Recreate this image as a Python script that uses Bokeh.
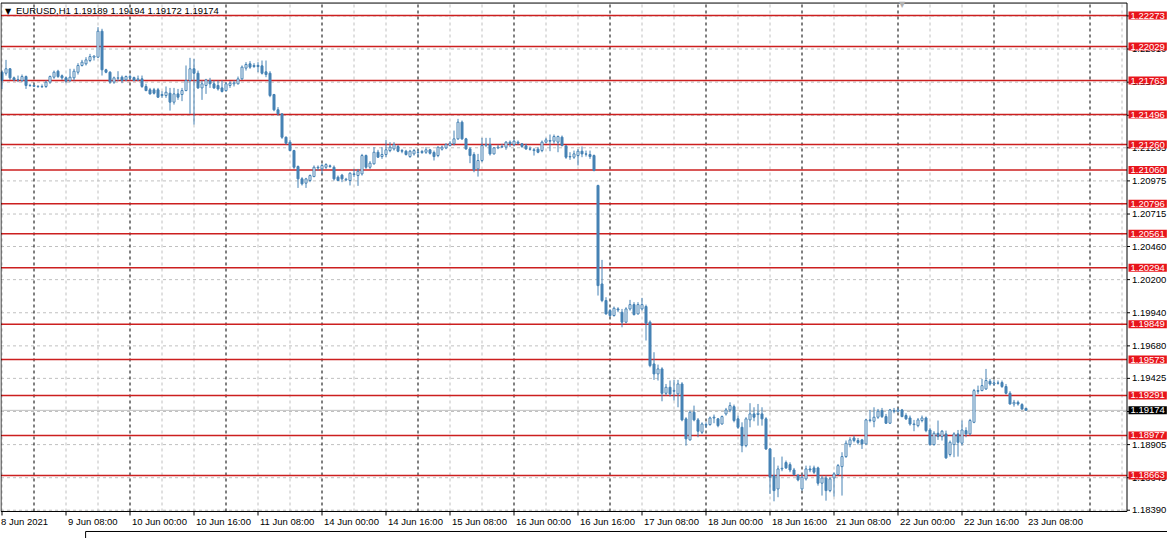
from math import pi
from bokeh.plotting import figure
from bokeh.models import ColumnDataSource, Range1d, Label
from bokeh.core.properties import value
from bokeh.embed import file_html
from bokeh.resources import INLINE

# ---------------- data (EURUSD H1, bar 0 = 8 Jun 2021 16:00) ----------------
open_ = [
    1.21828, 1.21820, 1.21855, 1.21784, 1.21768, 1.21763, 1.21794, 1.21724, 1.21724, 1.21718,
    1.21716, 1.21716, 1.21750, 1.21789, 1.21836, 1.21800, 1.21784, 1.21763, 1.21784, 1.21828,
    1.21881, 1.21894, 1.21920, 1.21946, 1.21946, 1.22150, 1.21847, 1.21828, 1.21750, 1.21781,
    1.21789, 1.21768, 1.21794, 1.21786, 1.21768, 1.21776, 1.21716, 1.21690, 1.21690, 1.21690,
    1.21645, 1.21645, 1.21663, 1.21593, 1.21658, 1.21653, 1.21684, 1.21763, 1.21855, 1.21820,
    1.21705, 1.21724, 1.21763, 1.21737, 1.21724, 1.21705, 1.21684, 1.21724, 1.21737, 1.21737,
    1.21776, 1.21860, 1.21894, 1.21873, 1.21881, 1.21878, 1.21831, 1.21820, 1.21653, 1.21533,
    1.21501, 1.21318, 1.21279, 1.21213, 1.21088, 1.20991, 1.20957, 1.20978, 1.21009, 1.21082,
    1.21069, 1.21082, 1.21093, 1.21082, 1.21004, 1.21020, 1.20983, 1.20978, 1.21030, 1.21017,
    1.21030, 1.21174, 1.21082, 1.21109, 1.21200, 1.21166, 1.21182, 1.21213, 1.21226, 1.21245,
    1.21213, 1.21208, 1.21166, 1.21187, 1.21200, 1.21198, 1.21200, 1.21219, 1.21198, 1.21174,
    1.21224, 1.21234, 1.21253, 1.21266, 1.21305, 1.21436, 1.21305, 1.21226, 1.21182, 1.21069,
    1.21135, 1.21255, 1.21260, 1.21187, 1.21234, 1.21240, 1.21240, 1.21279, 1.21260, 1.21279,
    1.21266, 1.21250, 1.21226, 1.21219, 1.21224, 1.21213, 1.21279, 1.21292, 1.21287, 1.21279,
    1.21318, 1.21250, 1.21166, 1.21161, 1.21174, 1.21208, 1.21187, 1.21182, 1.21174, 1.20939,
    1.20166, 1.20036, 1.19957, 1.19918, 1.19970, 1.19944, 1.19866, 1.19970, 1.20004, 1.19931,
    1.19970, 1.19989, 1.19866, 1.19538, 1.19460, 1.19499, 1.19308, 1.19355, 1.19329, 1.19303,
    1.19381, 1.19107, 1.18942, 1.19159, 1.19099, 1.19002, 1.19062, 1.19062, 1.19114, 1.19107,
    1.19067, 1.19146, 1.19177, 1.19203, 1.19107, 1.19041, 1.18897, 1.19099, 1.19146, 1.19141,
    1.19146, 1.19107, 1.18871, 1.18662, 1.18557, 1.18714, 1.18764, 1.18748, 1.18706, 1.18662,
    1.18557, 1.18636, 1.18714, 1.18722, 1.18722, 1.18602, 1.18643, 1.18544, 1.18643, 1.18670,
    1.18732, 1.18811, 1.18905, 1.18957, 1.18937, 1.18942, 1.18910, 1.19099, 1.19088, 1.19120,
    1.19172, 1.19125, 1.19073, 1.19172, 1.19167, 1.19177, 1.19133, 1.19114, 1.19067, 1.19054,
    1.19094, 1.19114, 1.19020, 1.18905, 1.18994, 1.18968, 1.18989, 1.18827, 1.18905, 1.18989,
    1.18916, 1.19015, 1.18989, 1.19080, 1.19329, 1.19329, 1.19342, 1.19402, 1.19381, 1.19389,
    1.19392, 1.19361, 1.19308, 1.19224, 1.19237, 1.19219, 1.19189,
]
high_ = [
    1.21841, 1.21925, 1.21860, 1.21794, 1.21802, 1.21810, 1.21802, 1.21737, 1.21729, 1.21724,
    1.21732, 1.21763, 1.21802, 1.21841, 1.21847, 1.21810, 1.21794, 1.21855, 1.21855, 1.21899,
    1.21925, 1.21946, 1.21972, 1.21959, 1.22182, 1.22169, 1.21855, 1.21836, 1.21794, 1.21836,
    1.21802, 1.21802, 1.21810, 1.21794, 1.21802, 1.21802, 1.21737, 1.21705, 1.21705, 1.21705,
    1.21679, 1.21716, 1.21705, 1.21705, 1.21697, 1.21705, 1.21881, 1.21941, 1.21933, 1.21841,
    1.21763, 1.21776, 1.21784, 1.21763, 1.21763, 1.21763, 1.21750, 1.21758, 1.21763, 1.21794,
    1.21881, 1.21907, 1.21915, 1.21899, 1.21907, 1.21920, 1.21920, 1.21836, 1.21658, 1.21554,
    1.21506, 1.21323, 1.21297, 1.21219, 1.21096, 1.21004, 1.20999, 1.21025, 1.21096, 1.21096,
    1.21109, 1.21114, 1.21103, 1.21096, 1.21017, 1.21030, 1.20999, 1.21043, 1.21069, 1.21069,
    1.21187, 1.21182, 1.21130, 1.21240, 1.21219, 1.21240, 1.21297, 1.21279, 1.21279, 1.21260,
    1.21226, 1.21219, 1.21219, 1.21226, 1.21219, 1.21219, 1.21240, 1.21226, 1.21213, 1.21245,
    1.21253, 1.21271, 1.21287, 1.21370, 1.21462, 1.21449, 1.21313, 1.21240, 1.21200, 1.21187,
    1.21313, 1.21313, 1.21313, 1.21240, 1.21260, 1.21266, 1.21287, 1.21292, 1.21297, 1.21292,
    1.21271, 1.21266, 1.21245, 1.21234, 1.21240, 1.21292, 1.21313, 1.21339, 1.21339, 1.21331,
    1.21331, 1.21253, 1.21200, 1.21213, 1.21226, 1.21245, 1.21213, 1.21213, 1.21182, 1.20945,
    1.20355, 1.20062, 1.19970, 1.19989, 1.19983, 1.19970, 1.19983, 1.20041, 1.20023, 1.20023,
    1.20057, 1.20004, 1.19879, 1.19630, 1.19533, 1.19512, 1.19381, 1.19408, 1.19413, 1.19413,
    1.19395, 1.19120, 1.19172, 1.19211, 1.19114, 1.19080, 1.19080, 1.19125, 1.19141, 1.19114,
    1.19133, 1.19193, 1.19237, 1.19219, 1.19133, 1.19080, 1.19120, 1.19230, 1.19198, 1.19224,
    1.19198, 1.19120, 1.18879, 1.18806, 1.18740, 1.18811, 1.18780, 1.18766, 1.18722, 1.18675,
    1.18675, 1.18740, 1.18740, 1.18740, 1.18732, 1.18662, 1.18662, 1.18649, 1.18688, 1.18753,
    1.18845, 1.18937, 1.18963, 1.18976, 1.18957, 1.18950, 1.19107, 1.19177, 1.19198, 1.19185,
    1.19193, 1.19146, 1.19185, 1.19193, 1.19193, 1.19185, 1.19151, 1.19133, 1.19099, 1.19114,
    1.19133, 1.19125, 1.19036, 1.19010, 1.19094, 1.19020, 1.19015, 1.18937, 1.19002, 1.19020,
    1.19094, 1.19041, 1.19107, 1.19342, 1.19368, 1.19421, 1.19499, 1.19421, 1.19413, 1.19408,
    1.19408, 1.19381, 1.19324, 1.19256, 1.19251, 1.19230, 1.19194,
]
low_ = [
    1.21697, 1.21802, 1.21768, 1.21758, 1.21750, 1.21750, 1.21697, 1.21716, 1.21711, 1.21705,
    1.21705, 1.21705, 1.21737, 1.21776, 1.21784, 1.21768, 1.21742, 1.21750, 1.21763, 1.21810,
    1.21873, 1.21881, 1.21907, 1.21920, 1.21941, 1.21802, 1.21820, 1.21737, 1.21737, 1.21758,
    1.21742, 1.21758, 1.21763, 1.21758, 1.21758, 1.21705, 1.21679, 1.21653, 1.21653, 1.21627,
    1.21627, 1.21627, 1.21527, 1.21574, 1.21611, 1.21601, 1.21679, 1.21501, 1.21417, 1.21697,
    1.21611, 1.21658, 1.21705, 1.21697, 1.21684, 1.21669, 1.21679, 1.21705, 1.21716, 1.21732,
    1.21768, 1.21841, 1.21855, 1.21862, 1.21828, 1.21810, 1.21789, 1.21632, 1.21522, 1.21488,
    1.21305, 1.21260, 1.21208, 1.21069, 1.20920, 1.20939, 1.20920, 1.20965, 1.21004, 1.21056,
    1.21030, 1.21069, 1.21077, 1.20978, 1.20973, 1.20965, 1.20973, 1.20939, 1.21004, 1.20936,
    1.21017, 1.21069, 1.21069, 1.21103, 1.21156, 1.21148, 1.21161, 1.21200, 1.21213, 1.21200,
    1.21192, 1.21174, 1.21156, 1.21174, 1.21161, 1.21187, 1.21187, 1.21182, 1.21135, 1.21161,
    1.21213, 1.21224, 1.21245, 1.21253, 1.21297, 1.21297, 1.21219, 1.21114, 1.21043, 1.21009,
    1.21122, 1.21240, 1.21174, 1.21182, 1.21224, 1.21234, 1.21219, 1.21240, 1.21245, 1.21260,
    1.21234, 1.21219, 1.21213, 1.21174, 1.21192, 1.21200, 1.21271, 1.21208, 1.21266, 1.21200,
    1.21245, 1.21148, 1.21140, 1.21148, 1.21096, 1.21161, 1.21166, 1.21148, 1.21051, 1.20075,
    1.20023, 1.19926, 1.19905, 1.19910, 1.19944, 1.19826, 1.19858, 1.19957, 1.19918, 1.19926,
    1.19957, 1.19722, 1.19512, 1.19413, 1.19408, 1.19245, 1.19290, 1.19282, 1.19251, 1.19198,
    1.19088, 1.18897, 1.18937, 1.19088, 1.18963, 1.18989, 1.19036, 1.19054, 1.19073, 1.19041,
    1.19062, 1.19133, 1.19159, 1.19080, 1.19028, 1.18845, 1.18884, 1.19041, 1.19088, 1.19054,
    1.19054, 1.18863, 1.18518, 1.18460, 1.18492, 1.18696, 1.18714, 1.18688, 1.18662, 1.18617,
    1.18544, 1.18623, 1.18688, 1.18675, 1.18583, 1.18505, 1.18465, 1.18531, 1.18497, 1.18662,
    1.18505, 1.18801, 1.18884, 1.18923, 1.18905, 1.18871, 1.18905, 1.19080, 1.19041, 1.19107,
    1.19114, 1.19067, 1.19067, 1.19151, 1.19159, 1.19120, 1.19099, 1.19054, 1.19010, 1.19041,
    1.19080, 1.19002, 1.18897, 1.18897, 1.18942, 1.18937, 1.18793, 1.18811, 1.18806, 1.18811,
    1.18897, 1.18963, 1.18976, 1.19073, 1.19303, 1.19324, 1.19334, 1.19368, 1.19368, 1.19376,
    1.19350, 1.19298, 1.19219, 1.19203, 1.19211, 1.19177, 1.19172,
]
close_ = [
    1.21763, 1.21855, 1.21784, 1.21768, 1.21768, 1.21794, 1.21724, 1.21722, 1.21718, 1.21716,
    1.21714, 1.21750, 1.21794, 1.21828, 1.21794, 1.21784, 1.21758, 1.21789, 1.21836, 1.21881,
    1.21907, 1.21925, 1.21951, 1.21955, 1.22150, 1.21847, 1.21828, 1.21750, 1.21784, 1.21784,
    1.21763, 1.21794, 1.21786, 1.21763, 1.21776, 1.21716, 1.21684, 1.21658, 1.21663, 1.21632,
    1.21653, 1.21671, 1.21593, 1.21658, 1.21632, 1.21684, 1.21763, 1.21855, 1.21820, 1.21705,
    1.21737, 1.21768, 1.21737, 1.21705, 1.21697, 1.21677, 1.21737, 1.21742, 1.21745, 1.21776,
    1.21868, 1.21889, 1.21868, 1.21881, 1.21873, 1.21820, 1.21810, 1.21645, 1.21533, 1.21501,
    1.21318, 1.21271, 1.21213, 1.21082, 1.20991, 1.20952, 1.20991, 1.21017, 1.21082, 1.21077,
    1.21096, 1.21103, 1.21088, 1.20991, 1.20978, 1.20991, 1.20988, 1.21035, 1.21025, 1.21051,
    1.21174, 1.21082, 1.21114, 1.21200, 1.21161, 1.21182, 1.21219, 1.21240, 1.21260, 1.21208,
    1.21208, 1.21182, 1.21208, 1.21213, 1.21198, 1.21206, 1.21219, 1.21192, 1.21166, 1.21240,
    1.21240, 1.21260, 1.21271, 1.21305, 1.21436, 1.21305, 1.21226, 1.21174, 1.21062, 1.21135,
    1.21253, 1.21260, 1.21187, 1.21234, 1.21240, 1.21245, 1.21279, 1.21266, 1.21287, 1.21271,
    1.21245, 1.21226, 1.21224, 1.21213, 1.21200, 1.21279, 1.21297, 1.21287, 1.21323, 1.21323,
    1.21253, 1.21161, 1.21163, 1.21187, 1.21208, 1.21187, 1.21185, 1.21166, 1.21056, 1.20153,
    1.20036, 1.19931, 1.19918, 1.19975, 1.19962, 1.19866, 1.19970, 1.20004, 1.19926, 1.20004,
    1.20004, 1.19858, 1.19525, 1.19460, 1.19499, 1.19308, 1.19355, 1.19303, 1.19324, 1.19381,
    1.19099, 1.18950, 1.19159, 1.19099, 1.19010, 1.19067, 1.19057, 1.19114, 1.19120, 1.19054,
    1.19125, 1.19177, 1.19211, 1.19094, 1.19041, 1.18897, 1.19107, 1.19146, 1.19120, 1.19151,
    1.19107, 1.18871, 1.18649, 1.18544, 1.18714, 1.18719, 1.18722, 1.18706, 1.18670, 1.18628,
    1.18649, 1.18714, 1.18706, 1.18688, 1.18602, 1.18643, 1.18544, 1.18636, 1.18675, 1.18740,
    1.18811, 1.18916, 1.18942, 1.18937, 1.18921, 1.18910, 1.19099, 1.19094, 1.19120, 1.19167,
    1.19125, 1.19073, 1.19177, 1.19167, 1.19177, 1.19125, 1.19107, 1.19067, 1.19062, 1.19099,
    1.19114, 1.19015, 1.18905, 1.18994, 1.18968, 1.19010, 1.18801, 1.18923, 1.18989, 1.18923,
    1.19020, 1.18989, 1.19094, 1.19329, 1.19324, 1.19368, 1.19408, 1.19381, 1.19389, 1.19387,
    1.19361, 1.19308, 1.19224, 1.19237, 1.19224, 1.19185, 1.19174,
]

# horizontal levels drawn on the chart
red_levels = [1.22273, 1.22029, 1.21763, 1.21496, 1.21260, 1.21060, 1.20796,
              1.20561, 1.20294, 1.19849, 1.19573, 1.19291, 1.18977, 1.18663]

# price scale ticks
y_ticks = [1.18390, 1.18645, 1.18905, 1.19165, 1.19425, 1.19680, 1.19940, 1.20200,
           1.20460, 1.20715, 1.20975, 1.21235, 1.21490, 1.21750, 1.22010, 1.22270]

# time scale (bar index -> label)
x_tick_bars = [0, 16, 32, 48, 64, 80, 96, 112, 128, 144, 160, 176, 192, 208, 224, 240, 256]
x_tick_labels = ["8 Jun 2021", "9 Jun 08:00", "10 Jun 00:00", "10 Jun 16:00", "11 Jun 08:00",
                 "14 Jun 00:00", "14 Jun 16:00", "15 Jun 08:00", "16 Jun 00:00", "16 Jun 16:00",
                 "17 Jun 08:00", "18 Jun 00:00", "18 Jun 16:00", "21 Jun 08:00", "22 Jun 00:00",
                 "22 Jun 16:00", "23 Jun 08:00"]
day_bars = [8, 32, 56, 80, 104, 128, 152, 176, 200, 224, 248, 272]

symbol = "EURUSD,H1"

# ---------------- styling / layout ----------------
BLUE = "#4682B4"
RED_LINE = "#CC1F1F"
RED_BOX = "#E8141B"
GRID = "#C0C0C0"
FONT = "Liberation Sans"
FS = "9.5px"
W, H = 1167, 538

# whole canvas in data units (4 px per bar), chart window inside it
CX0, CX1 = -0.375, 291.375
CY0, CY1 = 1.18168, 1.22391
X0, X1 = -0.25, 281.25          # chart window left / right
YB, YT = 1.18380, 1.22371       # chart window bottom / top
TAB_X = 20.9                     # left end of the terminal's bottom tab line
TAB_Y = 1.18223

n = len(close_)
xs = list(range(n))
top = [max(o, c) for o, c in zip(open_, close_)]
bot = [min(o, c) for o, c in zip(open_, close_)]
fill = ["white" if c >= o else BLUE for o, c in zip(open_, close_)]
src = ColumnDataSource(dict(x=xs, o=open_, h=high_, l=low_, c=close_, top=top, bot=bot, fill=fill))

p = figure(width=W, height=H, output_backend="svg", toolbar_location=None,
           x_range=Range1d(CX0, CX1), y_range=Range1d(CY0, CY1),
           x_axis_location=None, y_axis_location=None,
           min_border=0, min_border_left=0, min_border_right=0, min_border_top=0,
           min_border_bottom=0, background_fill_color="white", border_fill_color="white",
           outline_line_color=None)
p.grid.visible = False

# grid (dashed) inside the chart window
grey_x = [b for b in range(0, 288, 8) if b not in day_bars]
p.segment(x0=grey_x, y0=YB, x1=grey_x, y1=YT, line_color=GRID, line_dash="3 3", line_width=1)
p.segment(x0=X0, y0=y_ticks, x1=X1, y1=y_ticks, line_color=GRID, line_dash="3 3", line_width=1)
p.segment(x0=day_bars, y0=YB, x1=day_bars, y1=YT, line_color="black", line_dash="3 3",
          line_width=1)

# current bid line and horizontal levels
p.segment(x0=X0, y0=[close_[-1]], x1=X1, y1=[close_[-1]], line_color=GRID, line_width=1)
p.segment(x0=X0, y0=red_levels, x1=X1, y1=red_levels, line_color=RED_LINE, line_width=1.5)

# candles
p.segment(x0="x", y0="h", x1="x", y1="l", source=src, line_color=BLUE, line_width=1)
p.vbar(x="x", width=0.5, top="top", bottom="bot", source=src, fill_color="fill",
       line_color=BLUE, line_width=1)

# chart window frame
p.quad(left=[X0], right=[X1], bottom=[YB], top=[YT], fill_color=None, line_color="black",
       line_width=1)

# price scale: ticks + labels
p.ray(x=X1, y=y_ticks, length=3, length_units="screen", angle=0, line_color="black",
      line_width=1)
p.text(x=X1, y=y_ticks, text=[f"{t:.5f}" for t in y_ticks], x_offset=5,
       text_align="left", text_baseline="middle", text_font=value(FONT),
       text_font_size=FS, text_color="black")

# time scale: ticks + left-aligned labels
p.ray(x=x_tick_bars, y=YB, length=4, length_units="screen", angle=-pi / 2,
      line_color="black", line_width=1)
for b, t in zip(x_tick_bars, x_tick_labels):
    xo = -1 if b == x_tick_bars[0] else 2
    p.add_layout(Label(x=b, y=YB, x_offset=xo, y_offset=-5, text=t, text_align="left",
                       text_baseline="top", text_font=FONT, text_font_size=FS,
                       text_color="black"))

# price boxes for levels and current bid
for lv in red_levels:
    p.add_layout(Label(x=X1, y=lv, x_offset=1.5, text=f"{lv:.5f}", text_align="left",
                       text_baseline="middle", text_font=FONT, text_font_size=FS,
                       text_color="white", background_fill_color=RED_BOX, padding=(2, 1),
                       level="overlay"))
p.add_layout(Label(x=X1, y=close_[-1], x_offset=1.5, text=f"{close_[-1]:.5f}",
                   text_align="left", text_baseline="middle", text_font=FONT,
                   text_font_size=FS, text_color="white", background_fill_color="black",
                   padding=(2, 1), level="overlay"))

# chart header
p.add_layout(Label(x=X0, y=YT, x_offset=4, y_offset=-4, text="\u25BC", text_align="left",
                   text_baseline="top", text_font="DejaVu Sans", text_font_size="8px",
                   text_color="black", level="overlay"))
header = f"{symbol}  {open_[-1]:.5f} {high_[-1]:.5f} {low_[-1]:.5f} {close_[-1]:.5f}"
p.add_layout(Label(x=X0, y=YT, x_offset=15, y_offset=-2, text=header, text_align="left",
                   text_baseline="top", text_font=FONT, text_font_size=FS,
                   text_color="black", level="overlay"))
# chart-shift marker
p.add_layout(Label(x=225, y=YT, y_offset=3, text="\u25BC", text_align="center",
                   text_baseline="top", text_font="DejaVu Sans", text_font_size="8px",
                   text_color="#B0B0B0", level="overlay"))

# terminal bottom tab line
p.segment(x0=TAB_X, y0=TAB_Y, x1=CX1, y1=TAB_Y, line_color="black", line_width=1)
p.segment(x0=TAB_X, y0=TAB_Y, x1=TAB_X, y1=CY0, line_color="black", line_width=1)

open("out.html", "w").write(file_html(p, INLINE))
